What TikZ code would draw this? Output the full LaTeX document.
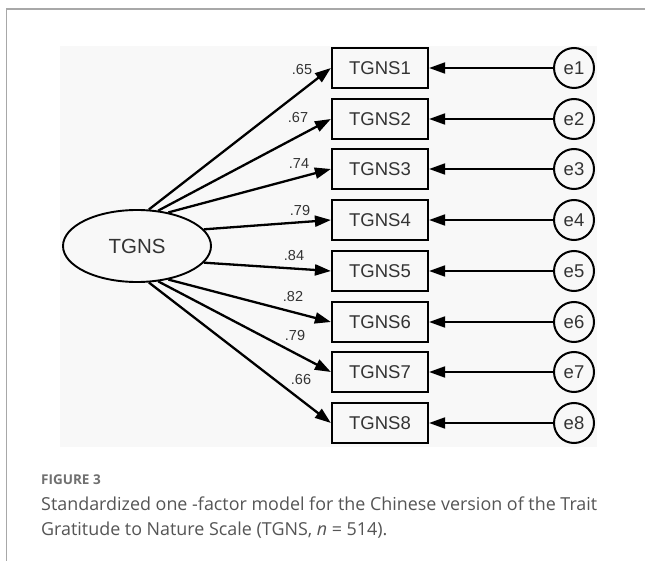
\documentclass[tikz,border=0pt]{standalone}
\usepackage{fontspec}
\setmainfont{Liberation Sans}
\newfontfamily\capfont{Open Sans}
\usetikzlibrary{arrows.meta,shapes.geometric}
\definecolor{framegray}{HTML}{A8A8A8}
\definecolor{bggray}{HTML}{F8F8F8}
\definecolor{capgray}{HTML}{555555}
\definecolor{figgray}{HTML}{707070}
\tikzset{
  obs/.style={draw, line width=2.2pt, minimum width=96pt, minimum height=40pt, inner sep=0pt, font=\fontsize{18.5}{18}\selectfont, text=black!80},
  err/.style={draw, circle, line width=2pt, minimum size=40pt, inner sep=0pt, font=\fontsize{18.5}{18}\selectfont, text=black!80},
  lat/.style={draw, ellipse, line width=1.9pt, minimum width=148pt, minimum height=72pt, inner sep=0pt, font=\fontsize{20.5}{20}\selectfont, text=black!80},
  load/.style={line width=2.3pt, -{Triangle[length=16pt,width=11pt]}},
  errarr/.style={line width=1.9pt, -{Triangle[length=16pt,width=11pt]}},
  lbl/.style={font=\fontsize{14.5}{14}\selectfont, inner sep=0pt, text=black!80},
}
\begin{document}
\begin{tikzpicture}[x=1pt,y=-1pt]
\useasboundingbox (0,0) rectangle (645,561);
\fill[white] (0,0) rectangle (645,561);
\draw[framegray, line width=1.5pt] (6.5,561) -- (6.5,9) -- (645,9);
\fill[bggray] (60,46) rectangle (597,447);
\node[lat] (tgns) at (137,246) {TGNS};
\foreach \i/\y in {1/68,2/119,3/169,4/220,5/271,6/322,7/372,8/423}{
  \node[obs] (b\i) at (380,\y) {TGNS\i};
  \node[err] (e\i) at (574,\y) {e\i};
  \draw[errarr] (e\i) -- (b\i);
}
\foreach \i/\a in {1/72,2/59,3/47,4/14,5/-14,6/-47,7/-59,8/-72}{
  \draw[load] (tgns.\a) -- (b\i.west);
}
\node[lbl] (l1) at (302,70) {.65};
\node[lbl] (l2) at (298,118) {.67};
\node[lbl] (l3) at (299,164) {.74};
\node[lbl] (l4) at (300,211) {.79};
\node[lbl] (l5) at (294,256) {.84};
\node[lbl] (l6) at (293,297) {.82};
\node[lbl] (l7) at (295,336) {.79};
\node[lbl] (l8) at (301,380) {.66};
\node[anchor=base west, inner sep=0pt, font=\capfont\bfseries\fontsize{13.5}{14}\selectfont, text=figgray] (fig) at (41,484) {FIGURE 3};
\node[anchor=base west, inner sep=0pt, font=\capfont\fontsize{17.9}{18}\selectfont, text=capgray] (cap1) at (41,510) {Standardized one -factor model for the Chinese version of the Trait};
\node[anchor=base west, inner sep=0pt, font=\capfont\fontsize{17.9}{18}\selectfont, text=capgray] (cap2) at (41,535) {Gratitude to Nature Scale (TGNS, \textit{n} = 514).};
\end{tikzpicture}
\end{document}
